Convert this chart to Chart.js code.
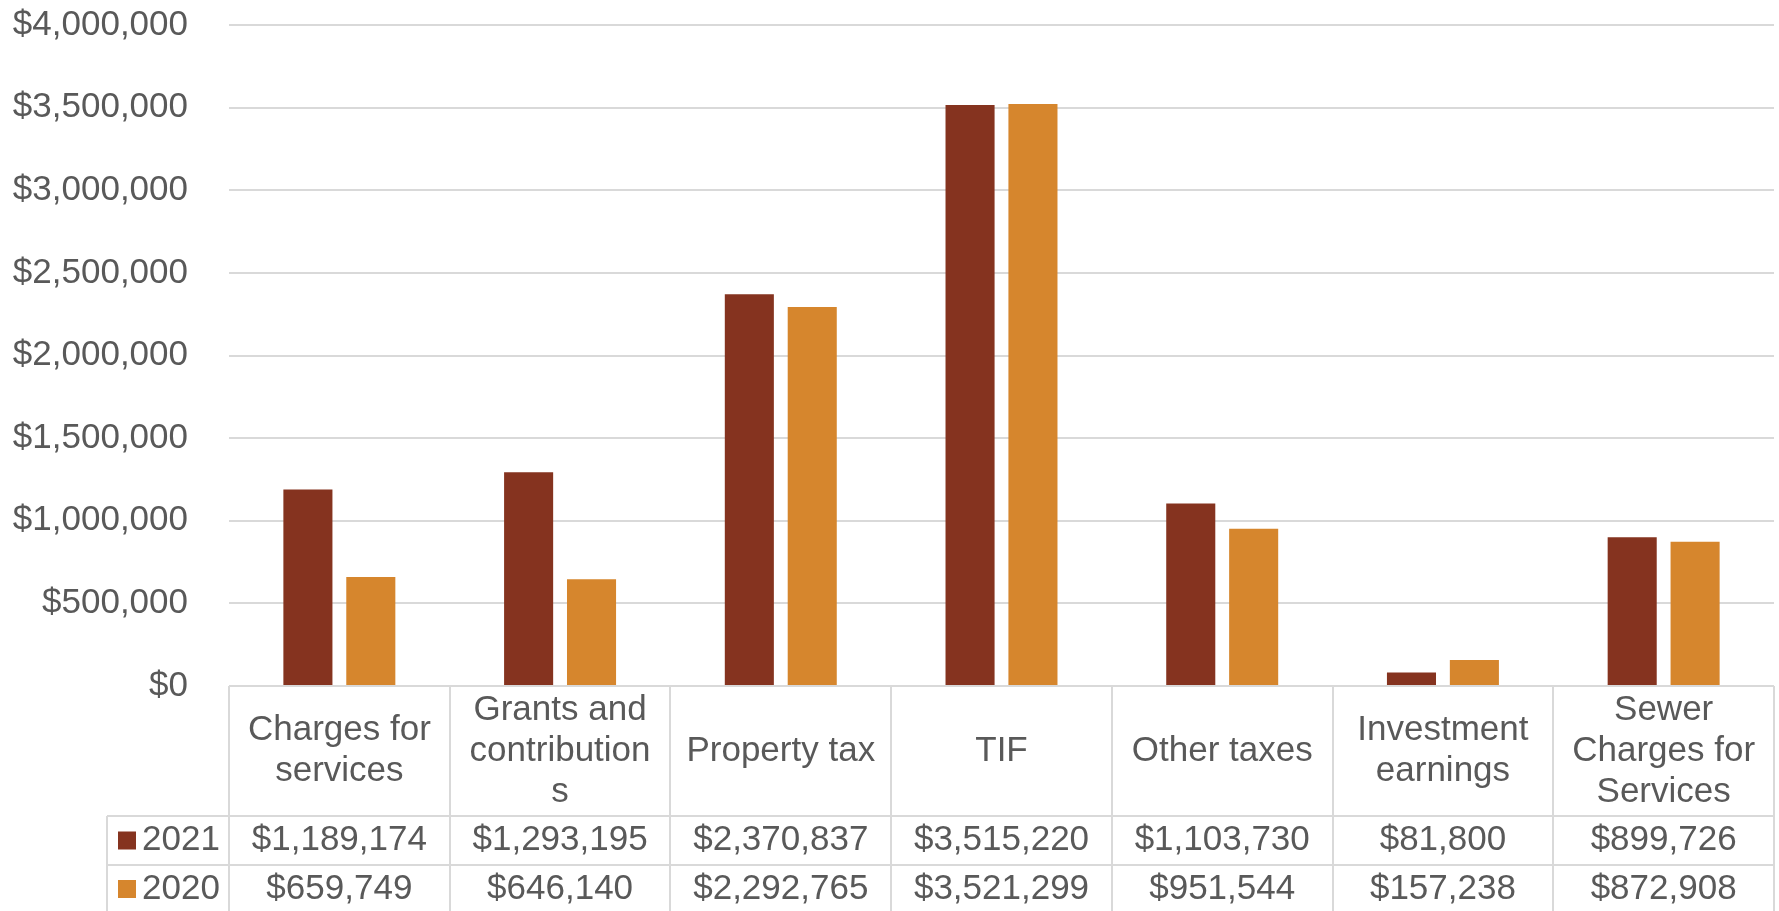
<!DOCTYPE html>
<html>
<head>
<meta charset="utf-8">
<script src="https://cdn.jsdelivr.net/npm/chart.js@4.4.1/dist/chart.umd.min.js"></script>
<style>
  html, body { margin: 0; padding: 0; background: #fff; }
  #wrap { width: 1779px; height: 911px; position: relative; }
</style>
</head>
<body>
<div id="wrap"><canvas id="chart"></canvas></div>
<script>
// categories, shown as wrapped lines in the table header
var categories = [
    ['Charges for', 'services'],
    ['Grants and', 'contribution', 's'],
    ['Property tax'],
    ['TIF'],
    ['Other taxes'],
    ['Investment', 'earnings'],
    ['Sewer', 'Charges for', 'Services']
];
var seriesNames = ['2021', '2020'];
var values2021 = [1189174, 1293195, 2370837, 3515220, 1103730, 81800, 899726];
var values2020 = [659749, 646140, 2292765, 3521299, 951544, 157238, 872908];
var yTicks = [0, 500000, 1000000, 1500000, 2000000, 2500000, 3000000, 3500000, 4000000];

var COLORS = ['#85331F', '#D6862D'];
var TEXT = '#595959';
var LINE = '#d9d9d9';
var FONT = '"Liberation Sans", Arial, sans-serif';

function money(v) {
    return '$' + Number(v).toLocaleString('en-US');
}

// draws the Excel-style data table under the plot area
var dataTable = {
    id: 'dataTable',
    afterDraw: function (chart) {
        var ctx = chart.ctx;
        var x = chart.scales.x;
        var area = chart.chartArea;
        var n = categories.length;
        var colW = (area.right - area.left) / n;
        var top = area.bottom;
        var headBottom = 816;
        var row1Bottom = 865;
        var bottom = 912;
        var legendLeft = area.left - 122;

        ctx.save();
        ctx.strokeStyle = LINE;
        ctx.lineWidth = 2;
        ctx.beginPath();
        for (var i = 0; i <= n; i++) {
            var bx = Math.round(area.left + i * colW);
            ctx.moveTo(bx, top);
            ctx.lineTo(bx, bottom);
        }
        ctx.moveTo(legendLeft, headBottom);
        ctx.lineTo(legendLeft, bottom);
        [headBottom, row1Bottom].forEach(function (yy) {
            ctx.moveTo(legendLeft, yy);
            ctx.lineTo(area.right, yy);
        });
        ctx.moveTo(area.left, top);
        ctx.lineTo(area.right, top);
        ctx.stroke();

        ctx.fillStyle = TEXT;
        ctx.textAlign = 'center';
        ctx.textBaseline = 'middle';
        ctx.font = '35px ' + FONT;
        var lh = 41;
        var headMid = (top + headBottom) / 2;
        categories.forEach(function (lines, i) {
            var cx = x.getPixelForValue(i);
            var y0 = headMid - (lines.length - 1) * lh / 2;
            lines.forEach(function (t, k) {
                ctx.fillText(t, cx, y0 + k * lh);
            });
        });

        var rows = [values2021, values2020];
        var mids = [(headBottom + row1Bottom) / 2, row1Bottom + 24];
        rows.forEach(function (vals, r) {
            ctx.textAlign = 'center';
            ctx.fillStyle = TEXT;
            vals.forEach(function (v, i) {
                ctx.fillText(money(v), x.getPixelForValue(i), mids[r]);
            });
            ctx.fillStyle = COLORS[r];
            ctx.fillRect(legendLeft + 11, mids[r] - 9, 18, 18);
            ctx.fillStyle = TEXT;
            ctx.textAlign = 'left';
            ctx.fillText(seriesNames[r], legendLeft + 35, mids[r]);
        });
        ctx.restore();
    }
};

Chart.defaults.font.family = FONT;
Chart.defaults.color = TEXT;

new Chart(document.getElementById('chart'), {
    type: 'bar',
    data: {
        labels: categories.map(function (c) { return c.join(' '); }),
        datasets: [
            { label: seriesNames[0], data: values2021, backgroundColor: COLORS[0] },
            { label: seriesNames[1], data: values2020, backgroundColor: COLORS[1] }
        ]
    },
    options: {
        responsive: true,
        maintainAspectRatio: false,
        animation: false,
        layout: { padding: { top: 25, bottom: 225, right: 5, left: 0 } },
        datasets: { bar: { categoryPercentage: 0.57, barPercentage: 0.78 } },
        plugins: {
            legend: { display: false },
            tooltip: { enabled: false }
        },
        scales: {
            x: { display: false },
            y: {
                min: 0,
                max: 4000000,
                afterFit: function (s) { s.width = 229; },
                afterBuildTicks: function (s) {
                    s.ticks = yTicks.map(function (v) { return { value: v }; });
                },
                border: { display: false },
                // tick marks kept but invisible, they only push labels left
                grid: { color: LINE, lineWidth: 2, drawTicks: true, tickLength: 41, tickColor: 'rgba(0,0,0,0)' },
                ticks: {
                    padding: 0,
                    color: TEXT,
                    font: { size: 35 },
                    callback: function (v) { return money(v); }
                }
            }
        }
    },
    plugins: [dataTable]
});
</script>
</body>
</html>
